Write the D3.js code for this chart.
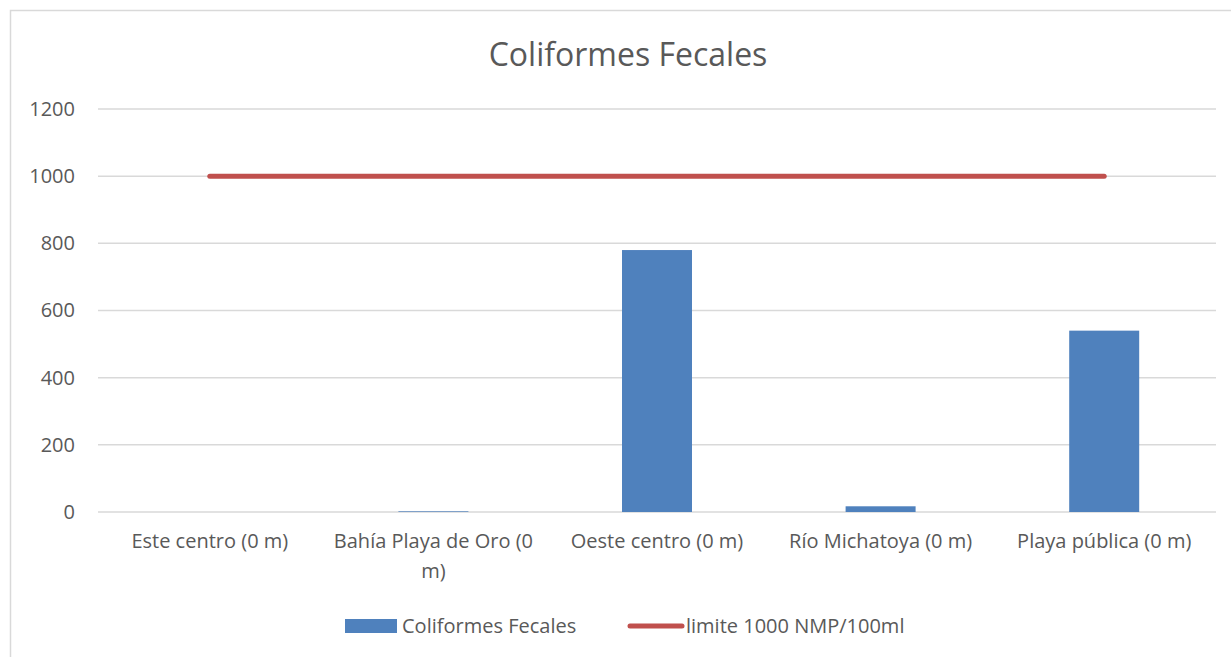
<!DOCTYPE html>
<html>
<head>
<meta charset="utf-8">
<script src="https://cdn.jsdelivr.net/npm/d3@7"></script>
<style>
  body { margin: 0; background: #fff; }
  text { font-family: "Open Sans", "Noto Sans", sans-serif; fill: #595959; }
</style>
</head>
<body>
<div id="chart"></div>
<script>
var categories = ["Este centro (0 m)", "Bahía Playa de Oro (0 m)", "Oeste centro (0 m)", "Río Michatoya (0 m)", "Playa pública (0 m)"];
var coliformes = [0, 2, 780, 17, 540];
var limite = [1000, 1000, 1000, 1000, 1000];
var yTicks = [0, 200, 400, 600, 800, 1000, 1200];
var seriesNames = ["Coliformes Fecales", "limite 1000 NMP/100ml"];

(function() {
  var W = 1231, H = 657;
  var margin = { top: 109, left: 98, right: 15, bottom: 145 },
    width = W - margin.left - margin.right,
    height = H - margin.top - margin.bottom;

  var root = d3.select("#chart").append("svg")
    .attr("width", W)
    .attr("height", H);

  // outer chart frame
  root.append("rect")
    .attr("x", 10.5).attr("y", 10.5)
    .attr("width", W + 20).attr("height", H + 20)
    .attr("fill", "none")
    .attr("stroke", "#d9d9d9")
    .attr("stroke-width", 1.5);

  root.append("text")
    .attr("x", 628).attr("y", 66)
    .attr("text-anchor", "middle")
    .style("font-size", "32px")
    .text("Coliformes Fecales");

  var svg = root.append("g")
    .attr("transform", "translate(" + margin.left + "," + margin.top + ")");

  var x = d3.scaleBand().domain(categories).range([0, width]).paddingInner(0.687).paddingOuter(0.3435);
  var xc = d3.scalePoint().domain(categories).range([0, width]).padding(0.5);
  var y = d3.scaleLinear().domain([0, 1200]).range([height, 0]);

  // gridlines
  svg.append("g")
    .selectAll("line")
    .data(yTicks)
    .enter().append("line")
    .attr("x1", 0).attr("x2", width)
    .attr("y1", function(d) { return y(d) })
    .attr("y2", function(d) { return y(d) })
    .attr("stroke", "#d9d9d9")
    .attr("stroke-width", 1.5);

  var yAxis = d3.axisLeft(y).tickValues(yTicks).tickFormat(d3.format("d")).tickSize(0).tickPadding(23);
  svg.append("g")
    .attr("class", "y-axis")
    .call(yAxis)
    .call(function(g) { g.select(".domain").remove() })
    .selectAll("text")
    .style("font-size", "20px")
    .style("fill", "#595959");

  svg.selectAll(".bar")
    .data(coliformes)
    .enter().append("rect")
    .attr("class", "bar")
    .attr("x", function(d, i) { return x(categories[i]) })
    .attr("width", x.bandwidth())
    .attr("y", function(d) { return y(d) })
    .attr("height", function(d) { return height - y(d) })
    .attr("fill", "#4f81bd");

  var line = d3.line()
    .x(function(d, i) { return xc(categories[i]) })
    .y(function(d) { return y(d) });

  svg.append("path")
    .datum(limite)
    .attr("d", line)
    .attr("fill", "none")
    .attr("stroke", "#c0504d")
    .attr("stroke-width", 5)
    .attr("stroke-linecap", "round");

  // category labels, wrapped
  var xAxis = d3.axisBottom(x).tickSize(0).tickPadding(22);
  svg.append("g")
    .attr("transform", "translate(0," + height + ")")
    .call(xAxis)
    .call(function(g) { g.select(".domain").remove() })
    .selectAll("text")
    .style("font-size", "20px")
    .style("fill", "#595959")
    .call(wrap, x.step() - 12);

  function wrap(texts, w) {
    texts.each(function() {
      var t = d3.select(this),
        words = t.text().split(" "),
        lineArr = [], n = 0,
        yy = t.attr("y"), dy = parseFloat(t.attr("dy"));
      t.text(null);
      var ts = t.append("tspan").attr("x", 0).attr("y", yy).attr("dy", dy + "em");
      words.forEach(function(wd) {
        lineArr.push(wd);
        ts.text(lineArr.join(" "));
        if (ts.node().getComputedTextLength() > w && lineArr.length > 1) {
          lineArr.pop();
          ts.text(lineArr.join(" "));
          lineArr = [wd];
          n++;
          ts = t.append("tspan").attr("x", 0).attr("y", yy).attr("dy", (dy + n * 1.5) + "em").text(wd);
        }
      });
    });
  }

  // legend
  var lg = root.append("g").attr("transform", "translate(0,626)");
  lg.append("rect")
    .attr("x", 345).attr("y", -7)
    .attr("width", 52).attr("height", 14)
    .attr("fill", "#4f81bd");
  lg.append("text")
    .attr("x", 402).attr("y", 0).attr("dy", "0.35em")
    .style("font-size", "20px")
    .text(seriesNames[0]);
  lg.append("line")
    .attr("x1", 630).attr("x2", 682)
    .attr("y1", 0).attr("y2", 0)
    .attr("stroke", "#c0504d")
    .attr("stroke-width", 5)
    .attr("stroke-linecap", "round");
  lg.append("text")
    .attr("x", 686).attr("y", 0).attr("dy", "0.35em")
    .style("font-size", "20px")
    .text(seriesNames[1]);
})();
</script>
</body>
</html>
